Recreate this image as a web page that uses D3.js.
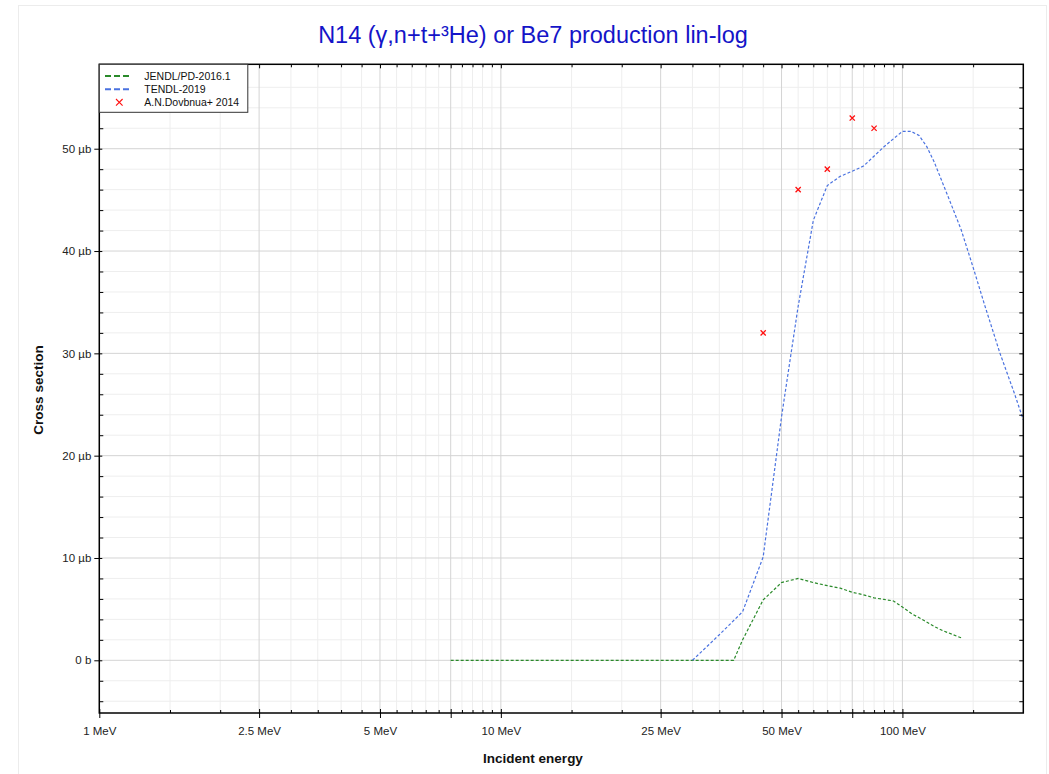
<!DOCTYPE html>
<html>
<head>
<meta charset="utf-8">
<script src="https://cdn.jsdelivr.net/npm/d3@7"></script>
<style>
  html, body { margin: 0; padding: 0; background: #fff; }
  svg { display: block; font-family: Arial, "Liberation Sans", sans-serif; }
</style>
</head>
<body>
<svg id="chart" width="1049" height="774"></svg>
<script>
// ---- data ----
const jendlE  = [7.5, 10, 20, 30, 38, 40, 45, 50, 55, 60, 65, 70, 75, 80, 85, 90, 95, 100, 106, 112, 120, 126, 140];
const jendlXS = [0, 0, 0, 0, 0, 2.0, 5.9, 7.6, 8.0, 7.6, 7.3, 7.05, 6.65, 6.4, 6.1, 5.95, 5.8, 5.2, 4.5, 4.0, 3.3, 2.9, 2.2];

const tendlE  = [30, 35, 40, 45, 50, 55, 60, 65, 70, 75, 80, 90, 100, 105, 110, 115, 120, 130, 140, 150, 160, 175, 190, 200];
const tendlXS = [0, 2.5, 4.75, 10.1, 23.8, 34.6, 43.0, 46.4, 47.3, 47.8, 48.3, 50.2, 51.7, 51.7, 51.3, 50.2, 48.7, 45.3, 42.1, 38.4, 34.8, 30.0, 26.1, 23.5];

const expE  = [45, 55, 65, 75, 85];
const expXS = [32, 46, 48, 53, 52];

const xMajorTicks = [1, 2.5, 5, 7.5, 10, 25, 50, 75, 100];
const xLabelTicks = [1, 2.5, 5, 10, 25, 50, 100];
const xMinorMult  = [1.5, 2, 3, 3.5, 4, 4.5, 5.5, 6, 6.5, 7, 8, 8.5, 9, 9.5];
const yMajorTicks = [0, 10, 20, 30, 40, 50];

const seriesNames = ["JENDL/PD-2016.1", "TENDL-2019", "A.N.Dovbnua+ 2014"];
const titleText = "N14 (γ,n+t+³He) or Be7 production lin-log";

// ---- layout ----
const L = 99.3, R = 1023.3, T = 64.3, B = 713;
const svg = d3.select("#chart");

// figure frame
svg.append("rect").attr("x", 18.5).attr("y", 5.5).attr("width", 1028).attr("height", 820)
  .attr("fill", "none").attr("stroke", "#ececec").attr("stroke-width", 1);

const x = d3.scaleLog().domain([1, 200]).range([L, R]);
const y = d3.scaleLinear().domain([-5.15, 58.25]).range([B, T]);

const xMinor = [];
[1, 10, 100].forEach(d => xMinorMult.forEach(m => { const v = d * m; if (v > 1 && v < 200) xMinor.push(v); }));
const yMinor = d3.range(-4, 58, 2).filter(v => v % 10 !== 0);

// grid
const grid = svg.append("g");
grid.selectAll(".gxm").data(xMinor).join("line")
  .attr("x1", d => x(d)).attr("x2", d => x(d)).attr("y1", T).attr("y2", B)
  .attr("stroke", "#eeeeee").attr("stroke-width", 1);
grid.selectAll(".gym").data(yMinor).join("line")
  .attr("x1", L).attr("x2", R).attr("y1", d => y(d)).attr("y2", d => y(d))
  .attr("stroke", "#eeeeee").attr("stroke-width", 1);
grid.selectAll(".gxM").data(xMajorTicks).join("line")
  .attr("x1", d => x(d)).attr("x2", d => x(d)).attr("y1", T).attr("y2", B)
  .attr("stroke", "#d4d4d4").attr("stroke-width", 1);
grid.selectAll(".gyM").data(yMajorTicks).join("line")
  .attr("x1", L).attr("x2", R).attr("y1", d => y(d)).attr("y2", d => y(d))
  .attr("stroke", "#d4d4d4").attr("stroke-width", 1);

// clip
svg.append("clipPath").attr("id", "clip").append("rect")
  .attr("x", L).attr("y", T).attr("width", R - L).attr("height", B - T);

const plot = svg.append("g").attr("clip-path", "url(#clip)");
const line = d3.line().x(d => x(d[0])).y(d => y(d[1]));

plot.append("path").datum(d3.zip(jendlE, jendlXS)).attr("d", line)
  .attr("fill", "none").attr("stroke", "#2a8a2a").attr("stroke-width", 1.2).attr("stroke-dasharray", "3,2");
plot.append("path").datum(d3.zip(tendlE, tendlXS)).attr("d", line)
  .attr("fill", "none").attr("stroke", "#4a72e0").attr("stroke-width", 1.2).attr("stroke-dasharray", "3,2");

const cs = 2.6;
const crosses = plot.selectAll(".cr").data(d3.zip(expE, expXS)).join("g")
  .attr("transform", d => `translate(${x(d[0])},${y(d[1])})`);
crosses.append("path").attr("d", `M${-cs},${-cs}L${cs},${cs}M${-cs},${cs}L${cs},${-cs}`)
  .attr("stroke", "#ff1010").attr("stroke-width", 1.3).attr("fill", "none");

// axes
const fmtE = d => d + " MeV";
const fmtY = d => d === 0 ? "0 b" : d + " µb";

function styleAxis(g) {
  g.select(".domain").remove();
  g.selectAll("line").attr("stroke", "#000").attr("stroke-width", 1);
  g.selectAll("text").attr("fill", "#222").style("font-size", "11.5px")
   .style("font-family", 'Arial, "Liberation Sans", sans-serif');
}

// bottom: labels + outward ticks
svg.append("g").attr("transform", `translate(0,${B})`)
  .call(d3.axisBottom(x).tickValues(xMajorTicks).tickFormat(d => xLabelTicks.includes(d) ? fmtE(d) : "")
    .tickSizeInner(5).tickSizeOuter(0).tickPadding(9))
  .call(styleAxis);
// bottom inward ticks
svg.append("g").attr("transform", `translate(0,${B})`)
  .call(d3.axisTop(x).tickValues(xMajorTicks).tickFormat("").tickSizeInner(4).tickSizeOuter(0)).call(styleAxis);
svg.append("g").attr("transform", `translate(0,${B})`)
  .call(d3.axisTop(x).tickValues(xMinor).tickFormat("").tickSizeInner(3).tickSizeOuter(0)).call(styleAxis);
// top inward ticks
svg.append("g").attr("transform", `translate(0,${T})`)
  .call(d3.axisBottom(x).tickValues(xMajorTicks).tickFormat("").tickSizeInner(4).tickSizeOuter(0)).call(styleAxis);
svg.append("g").attr("transform", `translate(0,${T})`)
  .call(d3.axisBottom(x).tickValues(xMinor).tickFormat("").tickSizeInner(3).tickSizeOuter(0)).call(styleAxis);

// left: labels + outward ticks
svg.append("g").attr("transform", `translate(${L},0)`)
  .call(d3.axisLeft(y).tickValues(yMajorTicks).tickFormat(fmtY).tickSizeInner(5).tickSizeOuter(0).tickPadding(3))
  .call(styleAxis);
svg.append("g").attr("transform", `translate(${L},0)`)
  .call(d3.axisRight(y).tickValues(yMajorTicks).tickFormat("").tickSizeInner(3).tickSizeOuter(0)).call(styleAxis);
svg.append("g").attr("transform", `translate(${L},0)`)
  .call(d3.axisRight(y).tickValues(yMinor).tickFormat("").tickSizeInner(4).tickSizeOuter(0)).call(styleAxis);
// right inward ticks
svg.append("g").attr("transform", `translate(${R},0)`)
  .call(d3.axisLeft(y).tickValues(yMajorTicks).tickFormat("").tickSizeInner(4).tickSizeOuter(0)).call(styleAxis);
svg.append("g").attr("transform", `translate(${R},0)`)
  .call(d3.axisLeft(y).tickValues(yMinor).tickFormat("").tickSizeInner(4).tickSizeOuter(0)).call(styleAxis);

// frame
svg.append("rect").attr("x", L).attr("y", T).attr("width", R - L).attr("height", B - T)
  .attr("fill", "none").attr("stroke", "#000").attr("stroke-width", 1.5);

// title
svg.append("text").attr("x", 533).attr("y", 43).attr("text-anchor", "middle")
  .attr("fill", "#1414c8").style("font-size", "23.5px").text(titleText);

// axis titles
svg.append("text").attr("x", 533).attr("y", 763).attr("text-anchor", "middle")
  .style("font-size", "13.5px").style("font-weight", "bold").attr("fill", "#111").text("Incident energy");
svg.append("text").attr("transform", "translate(43,390) rotate(-90)").attr("text-anchor", "middle")
  .style("font-size", "13.5px").style("font-weight", "bold").attr("fill", "#111").text("Cross section");

// legend
const lg = svg.append("g");
lg.append("rect").attr("x", L).attr("y", T).attr("width", 148.5).attr("height", 48)
  .attr("fill", "#fff").attr("stroke", "#333").attr("stroke-width", 1);
const rows = [76, 89.3, 102.3];
lg.append("line").attr("x1", 105).attr("x2", 131).attr("y1", rows[0]).attr("y2", rows[0])
  .attr("stroke", "#2a8a2a").attr("stroke-width", 2).attr("stroke-dasharray", "6,3");
lg.append("line").attr("x1", 105).attr("x2", 131).attr("y1", rows[1]).attr("y2", rows[1])
  .attr("stroke", "#4a72e0").attr("stroke-width", 2).attr("stroke-dasharray", "6,3");
const lc = 3.3;
lg.append("path").attr("transform", `translate(119.3,${rows[2]})`)
  .attr("d", `M${-lc},${-lc}L${lc},${lc}M${-lc},${lc}L${lc},${-lc}`)
  .attr("stroke", "#ff1010").attr("stroke-width", 1.1).attr("fill", "none");
lg.selectAll(".lt").data(seriesNames).join("text")
  .attr("x", 144.3).attr("y", (d, i) => rows[i]).attr("dy", "0.35em")
  .style("font-size", "10.5px").attr("fill", "#111").text(d => d);
</script>
</body>
</html>
